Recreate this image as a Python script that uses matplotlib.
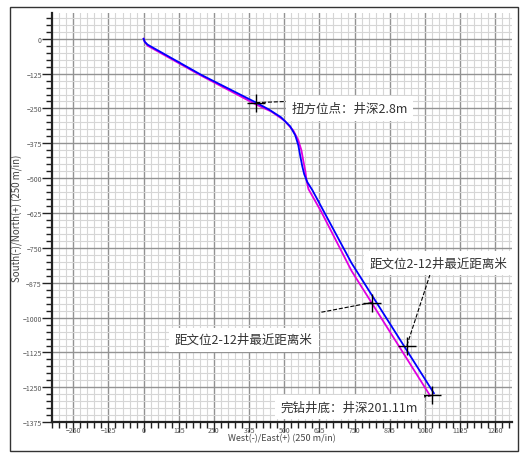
import matplotlib
matplotlib.use("Agg")
import matplotlib.pyplot as plt
from matplotlib.patches import Rectangle
from matplotlib.ticker import MultipleLocator

plt.rcParams['font.family'] = ['Noto Sans CJK SC', 'DejaVu Sans']

# trajectory, design (blue) and actual (magenta), East/North in m
blue_e = [0, 4, 14, 204, 400, 446, 489, 521, 539, 550, 557, 564, 571, 582, 600, 739, 1032]
blue_n = [0, -11, -21, -129, -229, -254, -282, -314, -346, -382, -421, -457, -486, -514, -543, -804, -1271]
mag_e = [0, 4, 14, 204, 400, 454, 500, 532, 550, 561, 568, 575, 579, 586, 632, 739, 1018]
mag_n = [0, -11, -25, -132, -236, -261, -293, -329, -364, -400, -439, -475, -507, -539, -621, -832, -1279]

# marked points
mark_e = [400, 811, 936, 1025]
mark_n = [-229, -946, -1100, -1279]

notes = ["扭方位点：井深2.8m",
         "距文位2-12井最近距离米",
         "距文位2-12井最近距离米",
         "完钻井底：井深201.11m"]
note_e = [525, 357, 1050, 732]
note_n = [-250, -1079, -804, -1321]
note_ha = ['left', 'center', 'center', 'center']
leader_e = [507, 625, 1018, 989]
leader_n = [-225, -982, -846, -1286]

fig = plt.figure(figsize=(5.22, 4.60), dpi=100)
ax = fig.add_axes([0.100, 0.080, 0.881, 0.890])

ax.set_xlim(-325, 1310)
ax.set_ylim(-1375, 93)
ax.xaxis.set_major_locator(MultipleLocator(125))
ax.xaxis.set_minor_locator(MultipleLocator(25))
ax.yaxis.set_major_locator(MultipleLocator(125))
ax.yaxis.set_minor_locator(MultipleLocator(25))

ax.grid(which='minor', color='#d6d6d6', lw=0.8)
ax.grid(which='major', color='#939393', lw=1.0)
ax.set_axisbelow(True)

ax.tick_params(which='major', length=7, width=1, color='#222222',
               labelsize=5, labelcolor='#555555')
ax.tick_params(axis='x', which='major', pad=-4)
ax.tick_params(axis='y', which='major', pad=0.5)
ax.tick_params(which='minor', length=4, width=1, color='#222222')
for side in ['top', 'right']:
    ax.spines[side].set_visible(False)
for side in ['left', 'bottom']:
    ax.spines[side].set_linewidth(1.6)
    ax.spines[side].set_color('#222222')

ax.plot(mag_e, mag_n, color='#e000e0', lw=1.3, zorder=3)
ax.plot(blue_e, blue_n, color='#0000ff', lw=1.3, zorder=4)
ax.plot(mark_e, mark_n, '+', color='black', ms=13, mew=1.0, zorder=6)

for i in range(len(notes)):
    ax.plot([mark_e[i], leader_e[i]], [mark_n[i], leader_n[i]], ls='--',
            color='black', lw=0.8, zorder=5)
    ax.text(note_e[i], note_n[i], notes[i], ha=note_ha[i], va='center',
            fontsize=9, color='#333333', zorder=7,
            bbox=dict(boxstyle='square,pad=0.45', fc='white', ec='none'))

ax.set_xlabel('West(-)/East(+) (250 m/in)', fontsize=6.5, color='#444444')
ax.set_ylabel('South(-)/North(+) (250 m/in)', fontsize=7, color='#444444')
ax.xaxis.set_label_coords(0.5, -0.027)
ax.yaxis.set_label_coords(-0.064, 0.5)

fig.patches.append(Rectangle((10 / 522, 8 / 460), 508 / 522, 444 / 460,
                             transform=fig.transFigure, fill=False,
                             ec='#333333', lw=1.0))

fig.savefig('out.png', dpi=100)
